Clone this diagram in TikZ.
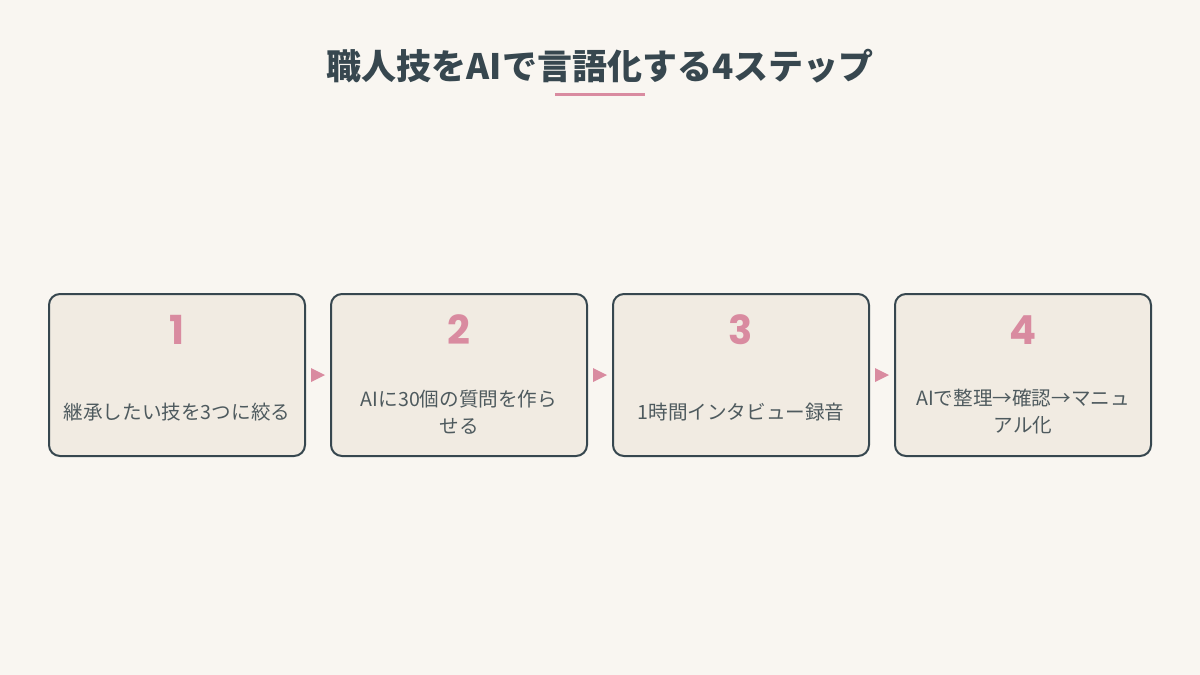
\documentclass[tikz,border=0pt]{standalone}
\usepackage{fontspec}
\setmainfont{Noto Sans CJK JP}
\newfontfamily\numfont{Poppins}
\usetikzlibrary{positioning,calc}
\definecolor{bgpaper}{HTML}{F9F6F1}
\definecolor{boxfill}{HTML}{F1EBE2}
\definecolor{slate}{HTML}{37474F}
\definecolor{rose}{HTML}{D98BA0}
\definecolor{bodytext}{HTML}{4E5A5E}
\begin{document}
\begin{tikzpicture}[x=1pt,y=-1pt,
        stepbox/.style={
        draw=slate, line width=2pt, fill=boxfill,
        rectangle, minimum width=256pt, minimum height=162pt,
        rounded corners=11pt, inner sep=0pt},
        stepnum/.style={text=rose, font=\numfont\fontsize{40}{42}\selectfont\bfseries},
        steptext/.style={text=bodytext, align=center,
        font=\fontsize{19.6}{27}\selectfont},
        pointer/.style={fill=rose, draw=none}]
        %background
        \fill[bgpaper] (0,0) rectangle (1200,675);
        \useasboundingbox (0,0) rectangle (1200,675);
        %title
        \node (title) at (600,66) [text=slate,
            font=\fontsize{35}{40}\selectfont\bfseries] {職人技をAIで言語化する4ステップ};
        \draw[rose, line width=3pt] (555,94) -- (645,94);
        %boxes
        \foreach \i/\x/\txt in
        {1/177/{継承したい技を3つに絞る},
            2/459/{AIに30個の質問を作ら\\せる},
            3/741/{1時間インタビュー録音},
            4/1023/{AIで整理→確認→マニュ\\アル化}}
        {
        \node (box\i) at (\x,375) [stepbox] {};
        \node (num\i) at (\x,330) [stepnum] {\i};
        \node (txt\i) at (\x,412) [steptext] {\txt};
        }
        %pointers
        \foreach \a/\b in {1/2,2/3,3/4}
        {
        \coordinate (mid\a) at ($(box\a.east)!0.5!(box\b.west)$);
        \fill[rose] ([xshift=-7pt,yshift=-7pt]mid\a) --
            ([xshift=7pt]mid\a) -- ([xshift=-7pt,yshift=7pt]mid\a) -- cycle;
        }
    \end{tikzpicture}
\end{document}
